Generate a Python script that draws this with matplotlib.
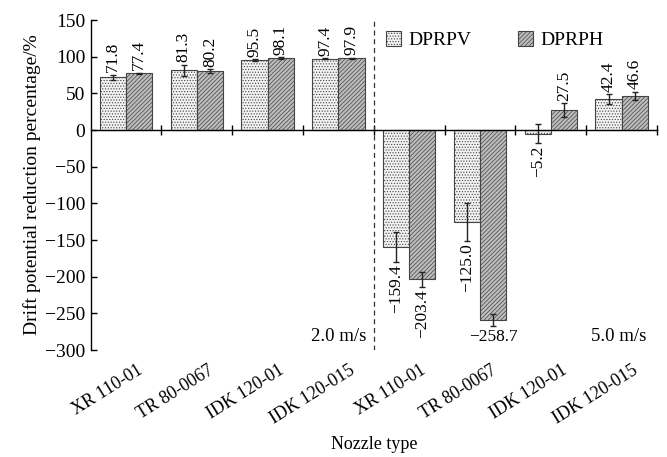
import matplotlib
matplotlib.use('Agg')
import matplotlib.pyplot as plt
import numpy as np
from matplotlib.transforms import blended_transform_factory

plt.rcParams['font.family'] = ['Liberation Serif', 'DejaVu Serif']
plt.rcParams['hatch.linewidth'] = 0.5
plt.rcParams['hatch.color'] = '#666666'

# 数据
nozzles = ['XR 110-01', 'TR 80-0067', 'IDK 120-01', 'IDK 120-015',
           'XR 110-01', 'TR 80-0067', 'IDK 120-01', 'IDK 120-015']
dprpv = [71.8, 81.3, 95.5, 97.4, -159.4, -125.0, -5.2, 42.4]
dprph = [77.4, 80.2, 98.1, 97.9, -203.4, -258.7, 27.5, 46.6]
dprpv_err = [4, 8, 1, 1, 21, 26, 13, 7]
dprph_err = [1, 3, 1.5, 1, 10, 8, 9, 6]
speeds = ['2.0 m/s', '5.0 m/s']

x = np.arange(len(nozzles))
w = 0.37

fig = plt.figure(figsize=(6.67, 4.57), dpi=100)
ax = fig.add_axes([0.136, 0.234, 0.849, 0.722])

ekw = dict(elinewidth=1, capsize=2, capthick=1, ecolor='#222222')
ax.bar(x - w / 2, dprpv, w, yerr=dprpv_err, color='#f2f2f2', edgecolor='#444444',
       linewidth=0.8, hatch='......', label='DPRPV', error_kw=ekw)
ax.bar(x + w / 2, dprph, w, yerr=dprph_err, color='#bdbdbd', edgecolor='#444444',
       linewidth=0.8, hatch='////////', label='DPRPH', error_kw=ekw)

# 数值标签
for xs, vals, errs in ((x - w / 2, dprpv, dprpv_err), (x + w / 2, dprph, dprph_err)):
    for xi, v, e in zip(xs, vals, errs):
        s = f'{v:.1f}'.replace('-', '\u2212')
        if v == -258.7:
            ax.text(xi, v - e - 4, s, ha='center', va='top', fontsize=12.5)
        elif v >= 0:
            ax.text(xi, v + e + 3, s, ha='center', va='bottom', rotation=90, fontsize=12.5)
        else:
            ax.text(xi, v - e - 3, s, ha='center', va='top', rotation=90, fontsize=12.5)

ax.set_xlim(-0.5, 7.5)
ax.set_ylim(-300, 150)
ax.set_yticks(np.arange(-300, 151, 50))
ax.set_yticklabels([str(t).replace('-', '\u2212') for t in range(-300, 151, 50)])
ax.spines['top'].set_visible(False)
ax.spines['right'].set_visible(False)
ax.spines['bottom'].set_position(('data', 0))
ax.spines['left'].set_linewidth(1)
ax.spines['bottom'].set_linewidth(1)
ax.set_xticks(np.arange(0.5, 8, 1))
ax.set_xticklabels([])
ax.tick_params(axis='x', direction='inout', length=7, width=1)
ax.tick_params(axis='y', direction='in', length=4, width=1, labelsize=14, pad=4)

trans = blended_transform_factory(ax.transData, ax.transAxes)
for xi, name in zip(x, nozzles):
    ax.text(xi + 0.15, -0.035, name, transform=trans, rotation=32, ha='right', va='top',
            rotation_mode='anchor', fontsize=13)
ax.text(0.5, -0.26, 'Nozzle type', transform=ax.transAxes, ha='center', va='top', fontsize=13)
ax.set_ylabel('Drift potential reduction percentage/%', fontsize=14, labelpad=3)

ax.axvline(3.5, color='#333333', linestyle=(0, (4, 3)), linewidth=0.9)
ax.text(3.4, -281, speeds[0], ha='right', va='center', fontsize=13.5)
ax.text(7.35, -281, speeds[1], ha='right', va='center', fontsize=13.5)

ax.legend(loc='upper left', bbox_to_anchor=(0.49, 1.02), ncol=2, frameon=False,
          handlelength=0.8, handleheight=0.8, columnspacing=2.4, handletextpad=0.35,
          fontsize=14)

fig.savefig('out.png', dpi=100)
